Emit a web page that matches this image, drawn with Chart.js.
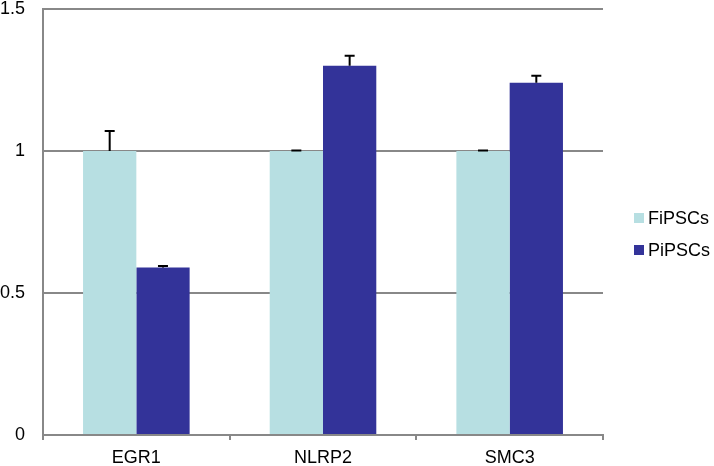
<!DOCTYPE html>
<html>
<head>
<meta charset="utf-8">
<script src="https://cdn.jsdelivr.net/npm/chart.js@4/dist/chart.umd.min.js"></script>
<style>
  html, body { margin: 0; padding: 0; background: #ffffff; }
  #wrap { width: 714px; height: 466px; }
</style>
</head>
<body>
<div id="wrap"><canvas id="c" width="714" height="466"></canvas></div>
<script>
// ---- data ----
const categories = ["EGR1", "NLRP2", "SMC3"];
const seriesNames = ["FiPSCs", "PiPSCs"];
const fiValues = [1.00, 1.00, 1.00];
const fiErrors = [0.07, 0.002, 0.002];
const piValues = [0.59, 1.30, 1.24];
const piErrors = [0.005, 0.035, 0.025];
const yTickValues = [0, 0.5, 1, 1.5];
const yTickLabels = ["0", "0.5", "1", "1.5"];

const FONT = "Arial, 'Liberation Sans', sans-serif";
const colors = ["#B7DFE2", "#333399"];
const errorSets = [fiErrors, piErrors];

const errorBars = {
  id: "errorBars",
  afterDatasetsDraw(chart) {
    const ctx = chart.ctx;
    const y = chart.scales.y;
    ctx.save();
    ctx.strokeStyle = "#000000";
    ctx.lineWidth = 2;
    chart.data.datasets.forEach((ds, di) => {
      const meta = chart.getDatasetMeta(di);
      meta.data.forEach((bar, i) => {
        const top = y.getPixelForValue(ds.data[i] + errorSets[di][i]);
        const base = y.getPixelForValue(ds.data[i]);
        ctx.beginPath();
        ctx.moveTo(bar.x, base);
        ctx.lineTo(bar.x, top);
        ctx.moveTo(bar.x - 5, top);
        ctx.lineTo(bar.x + 5, top);
        ctx.stroke();
      });
    });
    ctx.restore();
  }
};

const sideLegend = {
  id: "sideLegend",
  afterDraw(chart) {
    const ctx = chart.ctx;
    const area = chart.chartArea;
    const x0 = area.right + 31;
    const yMid = (area.top + area.bottom) / 2 + 12;
    const gap = 32;
    ctx.save();
    ctx.font = "18px " + FONT;
    ctx.textBaseline = "middle";
    ctx.textAlign = "left";
    seriesNames.forEach((name, i) => {
      const cy = yMid - gap / 2 + i * gap;
      ctx.fillStyle = colors[i];
      ctx.fillRect(x0, cy - 5, 10, 10);
      ctx.fillStyle = "#000000";
      ctx.fillText(name, x0 + 14, cy + 1);
    });
    ctx.restore();
  }
};

new Chart(document.getElementById("c"), {
  type: "bar",
  data: {
    labels: categories,
    datasets: [
      { label: seriesNames[0], data: fiValues, backgroundColor: colors[0], borderWidth: 0 },
      { label: seriesNames[1], data: piValues, backgroundColor: colors[1], borderWidth: 0 }
    ]
  },
  options: {
    responsive: false,
    animation: false,
    devicePixelRatio: 1,
    layout: { padding: { left: 0, right: 111, top: 0, bottom: 0 } },
    plugins: { legend: { display: false }, tooltip: { enabled: false } },
    datasets: { bar: { categoryPercentage: 0.571, barPercentage: 1.0 } },
    scales: {
      x: {
        offset: true,
        grid: { offset: true, drawOnChartArea: false, drawTicks: true, tickLength: 5, color: "#888888", lineWidth: 2 },
        border: { display: true, color: "#888888", width: 2 },
        ticks: { color: "#000000", font: { family: FONT, size: 18 }, padding: 7, maxRotation: 0 },
        afterFit(scale) { scale.height = 31; }
      },
      y: {
        min: 0,
        max: 1.5,
        afterBuildTicks(scale) { scale.ticks = yTickValues.map(v => ({ value: v })); },
        ticks: {
          color: "#000000",
          font: { family: FONT, size: 18 },
          padding: 18,
          callback: (v) => yTickLabels[yTickValues.indexOf(v)]
        },
        grid: { drawTicks: false, color: "#888888", lineWidth: 2 },
        border: { display: true, color: "#888888", width: 2 },
        afterFit(scale) { scale.width = 43; scale.paddingTop = 9; }
      }
    }
  },
  plugins: [errorBars, sideLegend]
});
</script>
</body>
</html>
